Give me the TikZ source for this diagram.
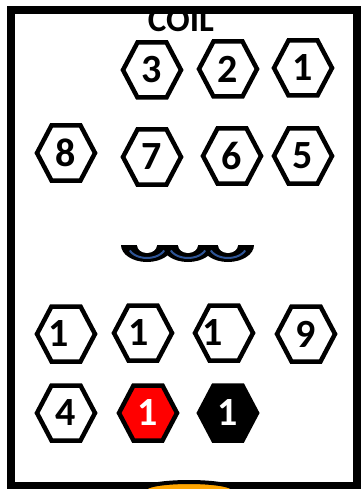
\documentclass[tikz,border=0pt]{standalone}
\usepackage{fontspec}
\setmainfont{Carlito}
\definecolor{coilblue}{HTML}{2F5597}
\definecolor{lampc}{HTML}{FFA500}
\definecolor{pinred}{HTML}{FF0000}
% hexagonal pin: [options] {name} {position} {label}
\newcommand{\hexpin}[4][]{%
  \draw[pinline, #1] (#3) +(-29,0) -- +(-14.5,-27.5) -- +(14.5,-27.5) -- +(29,0)
    -- +(14.5,27.5) -- +(-14.5,27.5) -- cycle;
  \node[pinnum] (#2) at (#3) {#4};
}

\begin{document}
\begin{tikzpicture}[x=1pt, y=-1pt,
  pinline/.style={line width=4.5pt, line join=miter},
  pinnum/.style={inner sep=0pt, font=\fontsize{40}{40}\selectfont\bfseries}]
  \useasboundingbox (0,0) rectangle (362,489);
  \node[anchor=base, inner sep=0pt, font=\fontsize{35}{35}\selectfont\bfseries] (title) at (181,32) {COIL};
  \draw[line width=8pt] (11,10.5) rectangle (356.5,486);
  % pins
  \hexpin{p3}{152,70}{3}
  \hexpin{p2}{228,69}{2}
  \hexpin{p1}{303,68}{1}
  \hexpin{p8}{66,153}{8}
  \hexpin{p7}{152,157}{7}
  \hexpin{p6}{232,156}{6}
  \hexpin{p5}{303,156}{5}
  \hexpin{p1a}{66,334}{1\kern14pt}
  \hexpin{p1b}{143,333}{1\kern8pt}
  \hexpin{p1c}{224,333}{1\kern22pt}
  \hexpin{p9}{306,334}{9}
  \hexpin{p4}{66,413}{4}
  \hexpin[fill=pinred]{p1r}{148,413}{\color{white}1}
  \hexpin[fill=black]{p1k}{228,413}{\color{white}1}
  % coil symbol
  \foreach \c in {147,188,228}
    \fill (\c-26,245) arc (180:0:26 and 17) -- cycle;
  \foreach \c in {147,188,228} {
    \fill[white] (\c-10,245) arc (180:0:10 and 8) -- cycle;
    \draw[line width=2pt, coilblue] (\c,245) ++(155:19 and 13) arc (155:25:19 and 13);
  }
  \draw[line width=4pt, fill=lampc] (189,489) ellipse (44 and 7);
\end{tikzpicture}
\end{document}
